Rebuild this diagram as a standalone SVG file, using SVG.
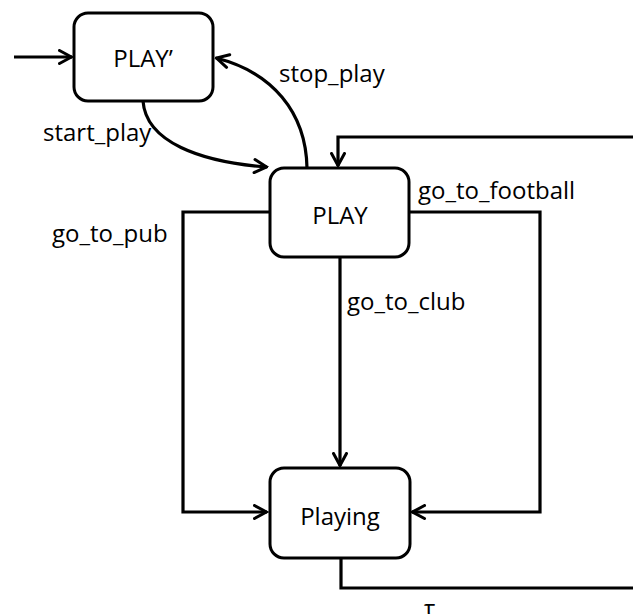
<svg xmlns="http://www.w3.org/2000/svg" width="633" height="614" viewBox="0 0 633 614">
  <defs>
    <marker id="arrow" viewBox="0 0 16 16" refX="14.5" refY="8" markerWidth="16" markerHeight="16" markerUnits="userSpaceOnUse" orient="auto">
      <path d="M2,1.5 L14,8 L2,14.5" fill="none" stroke="#000" stroke-width="3" stroke-linecap="round" stroke-linejoin="miter"/>
    </marker>
  </defs>
  <style>
    .state rect { fill: #fff; stroke: #000; stroke-width: 3; }
    .state text, .label { font-family: "Open Sans", "Noto Sans", sans-serif; font-size: 24px; fill: #000; }
    .state text { text-anchor: middle; }
    .edge { fill: none; stroke: #000; stroke-width: 3.2; stroke-linejoin: miter; }
  </style>
  <rect width="633" height="614" fill="#fff"/>

  <g id="connectors">
    <!-- initial arrow -->
    <path class="edge" d="M14,57 L72,57" marker-end="url(#arrow)"/>
    <!-- start_play -->
    <path class="edge" d="M143,101 C146,142 200,162 267,167" marker-end="url(#arrow)"/>
    <!-- stop_play -->
    <path class="edge" d="M307,168 C306,112 272,72 216,58" marker-end="url(#arrow)"/>
    <!-- go_to_pub -->
    <path class="edge" d="M270,212 L183,212 L183,512 L267,512" marker-end="url(#arrow)"/>
    <!-- go_to_football -->
    <path class="edge" d="M409,212 L540,212 L540,512 L412,512" marker-end="url(#arrow)"/>
    <!-- go_to_club -->
    <path class="edge" d="M340,257 L340,466" marker-end="url(#arrow)"/>
    <!-- tau: Playing back to PLAY via the right edge -->
    <path class="edge" d="M341,558 L341,588 L640,588"/>
    <path class="edge" d="M640,137 L338,137 L338,166" marker-end="url(#arrow)"/>
  </g>

  <g id="play-prime" class="state">
    <rect x="74" y="13" width="139" height="88" rx="14"/>
    <text x="143" y="67">PLAY’</text>
  </g>
  <g id="play" class="state">
    <rect x="270" y="168" width="139" height="89" rx="14"/>
    <text x="340" y="224">PLAY</text>
  </g>
  <g id="playing" class="state">
    <rect x="270" y="468" width="140" height="90" rx="14"/>
    <text x="340" y="525">Playing</text>
  </g>

  <g id="labels">
    <text class="label" x="279" y="82">stop_play</text>
    <text class="label" x="43" y="141">start_play</text>
    <text class="label" x="418" y="199">go_to_football</text>
    <text class="label" x="52" y="242">go_to_pub</text>
    <text class="label" x="347" y="310">go_to_club</text>
    <text class="label" x="424" y="617">τ</text>
  </g>
</svg>
